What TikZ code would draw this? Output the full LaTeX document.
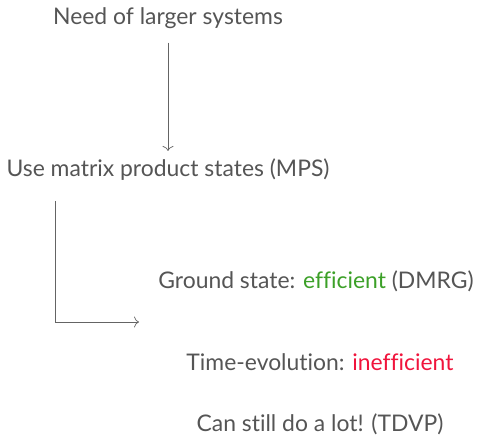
\documentclass[tikz,border=0pt]{standalone}
\usepackage{fontspec}
\setmainfont{Lato}[Ligatures=NoCommon]
\usetikzlibrary{positioning,arrows.meta}
\definecolor{textgray}{RGB}{85,85,85}
\definecolor{linegray}{RGB}{100,100,100}
\definecolor{goodgreen}{RGB}{60,160,40}
\definecolor{badred}{RGB}{240,20,60}

\begin{document}
\begin{tikzpicture}[x=1pt, y=1pt,
    label/.style={text=textgray, font=\fontsize{22.9}{27}\selectfont, inner sep=0pt},
    link/.style={draw=linegray, line width=0.7pt, -{To[length=5pt, width=11pt]}}]
  \useasboundingbox (0,0) rectangle (477,-446);
  % the chain of reasoning, top to bottom
  \node[label] (need) at (168,-18) {Need of larger systems};
  \node[label] (mps) at (168,-170) {Use matrix product states (MPS)};
  \node[label] (ground) at (316,-281) {Ground state: \textcolor{goodgreen}{efficient} (DMRG)};
  \node[label] (time) at (320,-362) {Time-evolution: \textcolor{badred}{inefficient}};
  \node[label] (tdvp) at (320,-424) {Can still do a lot! (TDVP)};

  % connectors
  \draw[link] ([yshift=-14pt]need.south) -- ([yshift=8pt]mps.north);
  \coordinate (bend) at (55,-322);
  \coordinate (tip) at (139,-322);
  \draw[link] (bend |- 0,-201) -- (bend) -- (tip);
\end{tikzpicture}
\end{document}
